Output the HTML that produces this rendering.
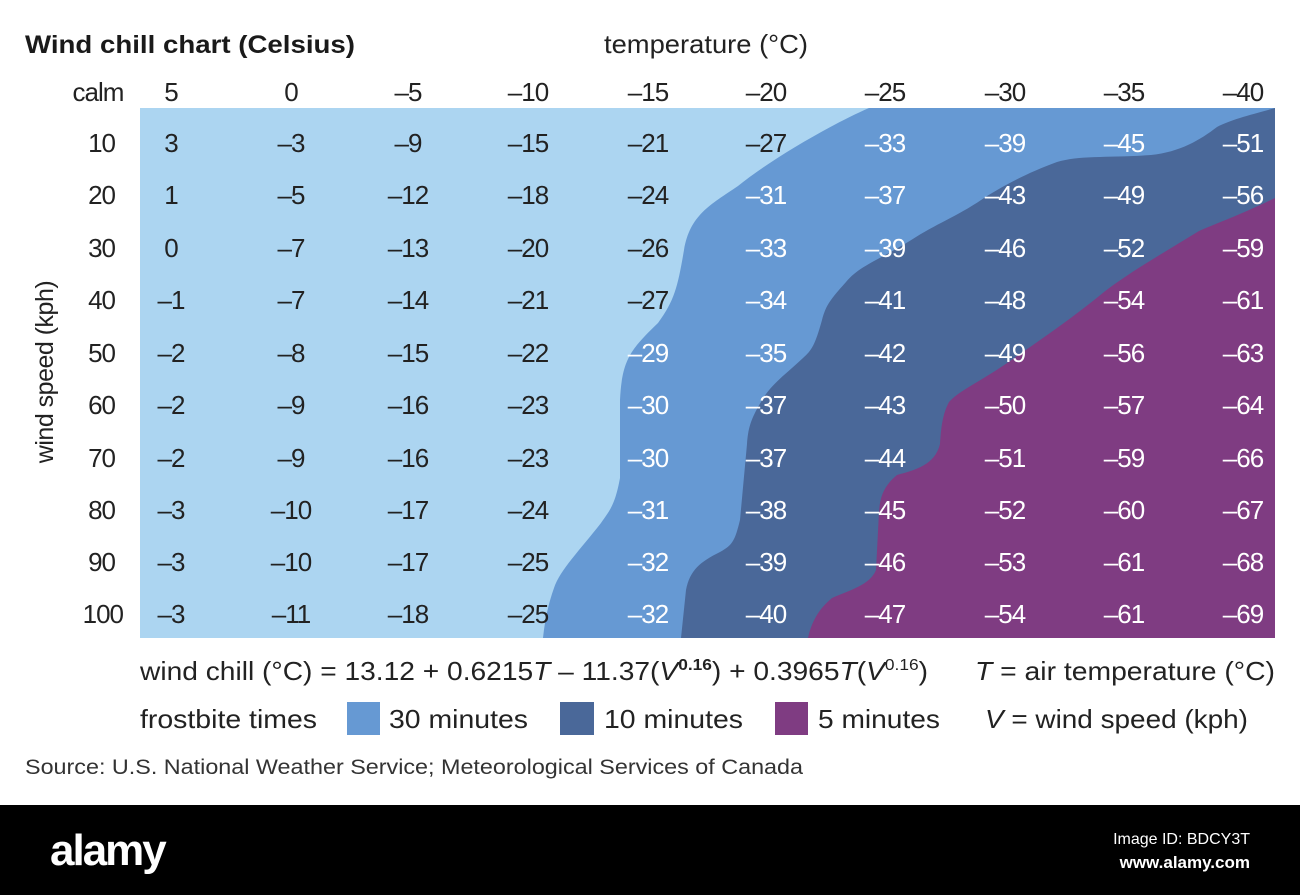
<!DOCTYPE html>
<html><head><meta charset="utf-8"><style>
html,body{margin:0;padding:0;background:#fff;}
svg{display:block;}
text{font-family:"Liberation Sans",Arial,sans-serif;}
</style></head><body>
<svg width="1300" height="895" viewBox="0 0 1300 895" xmlns="http://www.w3.org/2000/svg">
<rect x="0" y="0" width="1300" height="895" fill="#fff"/>
<text x="25" y="53" font-size="25" font-weight="bold" fill="#1a1a1a" textLength="330" lengthAdjust="spacingAndGlyphs">Wind chill chart (Celsius)</text>
<text x="604" y="53" font-size="26" fill="#222" textLength="204" lengthAdjust="spacingAndGlyphs">temperature (°C)</text>

<rect x="140" y="108" width="1135" height="530" fill="#acd5f1"/>
<path d="M869,108 C830,125 770,160 738,186 C710,205 690,215 684,250 C678,285 675,300 658,323 C630,350 622,360 620,400 L620,478 C615,505 610,510 601,523 C580,550 560,570 554,588 C548,605 545,620 543,638 L1275,638 L1275,108 Z" fill="#6699d3"/>
<path d="M1275,108 C1250,115 1230,120 1217,127 C1200,140 1180,152 1151,155 C1110,158 1080,155 1057,162 C1030,172 1010,182 987,196 C960,215 940,222 916,237 C880,260 860,265 846,282 C830,300 826,305 822,320 C815,345 812,350 803,358 C785,375 770,385 761,402 C750,420 748,430 747,444 L740,520 C735,540 733,545 720,552 C700,562 690,570 686,590 L681,638 L1275,638 Z" fill="#4a6899"/>
<path d="M1275,198 C1240,215 1220,222 1199,231 C1160,255 1130,272 1104,292 C1070,320 1040,340 1010,361 C980,382 960,390 949,402 C942,415 941,430 940,444 C935,465 915,470 897,475 C885,485 880,495 879,512 L876,570 C870,585 850,590 832,598 C820,608 812,620 808,638 L1275,638 Z" fill="#7f3c82"/>

<g font-size="26" text-anchor="middle" fill="#222" letter-spacing="-1">
<text x="98" y="101">calm</text>
<text x="171" y="101">5</text><text x="291" y="101">0</text><text x="408" y="101">–5</text><text x="528" y="101">–10</text><text x="648" y="101">–15</text><text x="766" y="101">–20</text><text x="885" y="101">–25</text><text x="1005" y="101">–30</text><text x="1124" y="101">–35</text><text x="1243" y="101">–40</text>
</g>
<g font-size="26" text-anchor="end" fill="#222" letter-spacing="-1">
<text x="115" y="152">10</text><text x="115" y="204">20</text><text x="115" y="257">30</text><text x="115" y="309">40</text><text x="115" y="362">50</text><text x="115" y="414">60</text><text x="115" y="467">70</text><text x="115" y="519">80</text><text x="115" y="571">90</text><text x="123" y="623">100</text>
</g>
<text transform="translate(53,372) rotate(-90)" font-size="25" text-anchor="middle" fill="#222" letter-spacing="-0.5">wind speed (kph)</text>

<g font-size="26" text-anchor="middle" letter-spacing="-1" fill="#222">
<text x="171" y="152">3</text><text x="171" y="204">1</text><text x="171" y="257">0</text><text x="171" y="309">–1</text><text x="171" y="362">–2</text><text x="171" y="414">–2</text><text x="171" y="467">–2</text><text x="171" y="519">–3</text><text x="171" y="571">–3</text><text x="171" y="623">–3</text>
<text x="291" y="152">–3</text><text x="291" y="204">–5</text><text x="291" y="257">–7</text><text x="291" y="309">–7</text><text x="291" y="362">–8</text><text x="291" y="414">–9</text><text x="291" y="467">–9</text><text x="291" y="519">–10</text><text x="291" y="571">–10</text><text x="291" y="623">–11</text>
<text x="408" y="152">–9</text><text x="408" y="204">–12</text><text x="408" y="257">–13</text><text x="408" y="309">–14</text><text x="408" y="362">–15</text><text x="408" y="414">–16</text><text x="408" y="467">–16</text><text x="408" y="519">–17</text><text x="408" y="571">–17</text><text x="408" y="623">–18</text>
<text x="528" y="152">–15</text><text x="528" y="204">–18</text><text x="528" y="257">–20</text><text x="528" y="309">–21</text><text x="528" y="362">–22</text><text x="528" y="414">–23</text><text x="528" y="467">–23</text><text x="528" y="519">–24</text><text x="528" y="571">–25</text><text x="528" y="623">–25</text>
<text x="648" y="152">–21</text><text x="648" y="204">–24</text><text x="648" y="257">–26</text><text x="648" y="309">–27</text>
<text x="766" y="152">–27</text>
</g>
<g font-size="26" text-anchor="middle" letter-spacing="-1" fill="#fff">
<text x="648" y="362">–29</text><text x="648" y="414">–30</text><text x="648" y="467">–30</text><text x="648" y="519">–31</text><text x="648" y="571">–32</text><text x="648" y="623">–32</text>
<text x="766" y="204">–31</text><text x="766" y="257">–33</text><text x="766" y="309">–34</text><text x="766" y="362">–35</text><text x="766" y="414">–37</text><text x="766" y="467">–37</text><text x="766" y="519">–38</text><text x="766" y="571">–39</text><text x="766" y="623">–40</text>
<text x="885" y="152">–33</text><text x="885" y="204">–37</text><text x="885" y="257">–39</text><text x="885" y="309">–41</text><text x="885" y="362">–42</text><text x="885" y="414">–43</text><text x="885" y="467">–44</text><text x="885" y="519">–45</text><text x="885" y="571">–46</text><text x="885" y="623">–47</text>
<text x="1005" y="152">–39</text><text x="1005" y="204">–43</text><text x="1005" y="257">–46</text><text x="1005" y="309">–48</text><text x="1005" y="362">–49</text><text x="1005" y="414">–50</text><text x="1005" y="467">–51</text><text x="1005" y="519">–52</text><text x="1005" y="571">–53</text><text x="1005" y="623">–54</text>
<text x="1124" y="152">–45</text><text x="1124" y="204">–49</text><text x="1124" y="257">–52</text><text x="1124" y="309">–54</text><text x="1124" y="362">–56</text><text x="1124" y="414">–57</text><text x="1124" y="467">–59</text><text x="1124" y="519">–60</text><text x="1124" y="571">–61</text><text x="1124" y="623">–61</text>
<text x="1243" y="152">–51</text><text x="1243" y="204">–56</text><text x="1243" y="257">–59</text><text x="1243" y="309">–61</text><text x="1243" y="362">–63</text><text x="1243" y="414">–64</text><text x="1243" y="467">–66</text><text x="1243" y="519">–67</text><text x="1243" y="571">–68</text><text x="1243" y="623">–69</text>
</g>

<text x="140" y="680" font-size="26" fill="#222" textLength="788" lengthAdjust="spacingAndGlyphs">wind chill (°C) = 13.12 + 0.6215<tspan font-style="italic">T</tspan> – 11.37(<tspan font-style="italic">V</tspan><tspan font-size="16" dy="-10" font-weight="bold">0.16</tspan><tspan dy="10">) + 0.3965</tspan><tspan font-style="italic">T</tspan>(<tspan font-style="italic">V</tspan><tspan font-size="16" dy="-10">0.16</tspan><tspan dy="10">)</tspan></text>
<text x="975" y="680" font-size="26" fill="#222" textLength="300" lengthAdjust="spacingAndGlyphs"><tspan font-style="italic">T</tspan> = air temperature (°C)</text>
<text x="140" y="728" font-size="26" fill="#222" textLength="177" lengthAdjust="spacingAndGlyphs">frostbite times</text>
<rect x="347" y="702" width="33" height="33" fill="#6699d3"/>
<text x="389" y="728" font-size="26" fill="#222" textLength="139" lengthAdjust="spacingAndGlyphs">30 minutes</text>
<rect x="560" y="702" width="34" height="33" fill="#4a6899"/>
<text x="604" y="728" font-size="26" fill="#222" textLength="139" lengthAdjust="spacingAndGlyphs">10 minutes</text>
<rect x="775" y="702" width="33" height="33" fill="#7f3c82"/>
<text x="818" y="728" font-size="26" fill="#222" textLength="122" lengthAdjust="spacingAndGlyphs">5 minutes</text>
<text x="985" y="728" font-size="26" fill="#222" textLength="263" lengthAdjust="spacingAndGlyphs"><tspan font-style="italic">V</tspan> = wind speed (kph)</text>
<text x="25" y="774" font-size="21" fill="#333" textLength="778" lengthAdjust="spacingAndGlyphs">Source: U.S. National Weather Service; Meteorological Services of Canada</text>

<rect x="0" y="805" width="1300" height="90" fill="#000"/>
<text x="50" y="865" font-size="44" font-weight="bold" fill="#fff" letter-spacing="-2">alamy</text>
<text x="1250" y="844" font-size="16" fill="#fff" text-anchor="end">Image ID: BDCY3T</text>
<text x="1250" y="868" font-size="17" font-weight="bold" fill="#fff" text-anchor="end">www.alamy.com</text>
</svg>
</body></html>
